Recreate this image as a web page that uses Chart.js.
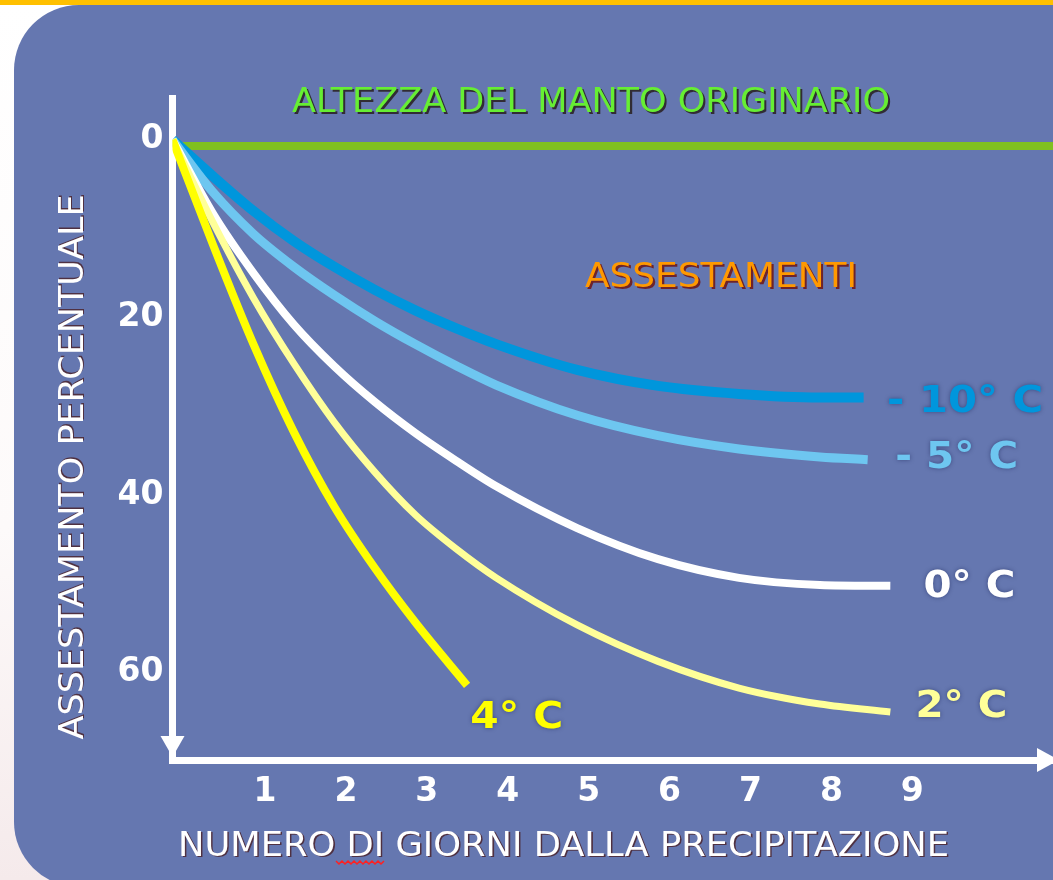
<!DOCTYPE html>
<html>
<head>
<meta charset="utf-8">
<script src="https://cdn.jsdelivr.net/npm/chart.js@4.4.1/dist/chart.umd.min.js"></script>
<style>
  html, body { margin: 0; padding: 0; background: #fff; }
  #wrap { width: 1053px; height: 880px; position: relative; }
</style>
</head>
<body>
<div id="wrap"><canvas id="chart"></canvas></div>
<script>
/* DATA - x: days after snowfall, y: settlement % */
const days10 = [0, 0.5, 1, 1.5, 2, 2.5, 3, 3.5, 4, 5, 6, 7, 8, 8.54];
const settle10 = [0, 4.1, 8.0, 11.4, 14.3, 16.9, 19.2, 21.2, 23.0, 25.9, 27.7, 28.6, 29.0, 29.0];

const days5 = [0, 0.5, 1, 1.5, 2, 2.5, 3, 3.5, 4, 5, 6, 7, 8, 8.59];
const settle5 = [0, 5.9, 10.6, 14.3, 17.5, 20.4, 23.0, 25.4, 27.6, 31.0, 33.3, 34.8, 35.7, 36.0];

const days0 = [0, 0.5, 1, 1.5, 2, 2.5, 3, 3.5, 4, 5, 6, 7, 8, 8.87];
const settle0 = [0, 8.3, 15.0, 20.8, 25.5, 29.5, 33.0, 36.1, 39.0, 43.7, 47.2, 49.3, 50.1, 50.2];

const days2 = [0, 0.5, 1, 1.5, 2, 2.5, 3, 3.5, 4, 5, 6, 7, 8, 8.87];
const settle2 = [0, 9.3, 17.8, 25.2, 31.8, 37.4, 42.2, 46.0, 49.3, 54.6, 58.7, 61.7, 63.5, 64.4];

const days4 = [0, 0.5, 1, 1.5, 2, 2.5, 3, 3.64];
const settle4 = [0, 11.8, 23.0, 32.9, 41.3, 48.2, 54.3, 61.4];

const originalDays = [0.07, 10.9];
const originalLevel = [0.7, 0.7];

const seriesNames = ["- 10° C", "- 5° C", "0° C", "2° C", "4° C"];
const dayTicks = [1, 2, 3, 4, 5, 6, 7, 8, 9];
const pctTicks = [0, 20, 40, 60];

const pts = (xs, ys) => xs.map((x, i) => ({ x: x, y: ys[i] }));

/* Colours */
const colors = ["#0096dc", "#6ec6f0", "#ffffff", "#ffff99", "#ffff00"];
const green = "#80c020";
const panel = "#6577b0";

/* helper: text squeezed to a given width */
function drawText(ctx, text, x, y, font, color, opt) {
  opt = opt || {};
  ctx.save();
  ctx.font = font;
  const w = ctx.measureText(text).width;
  ctx.translate(x, y);
  if (opt.rotate) ctx.rotate(opt.rotate);
  if (opt.width) ctx.scale(opt.width / w, 1);
  ctx.textBaseline = "middle";
  ctx.textAlign = opt.align || "left";
  if (opt.shadow) {
    ctx.fillStyle = opt.shadow;
    ctx.fillText(text, opt.sx || 2, opt.sy || 2);
  }
  if (opt.blur) {
    ctx.shadowColor = opt.blur;
    ctx.shadowBlur = 4;
  }
  ctx.fillStyle = color;
  ctx.fillText(text, 0, 0);
  ctx.restore();
}

/* slide background: orange strip + rounded blue panel */
const slideBg = {
  id: "slideBg",
  beforeDraw(chart) {
    const ctx = chart.ctx, W = chart.width, H = chart.height;
    ctx.save();
    const g = ctx.createLinearGradient(0, 0, 0, H);
    g.addColorStop(0, "#ffffff");
    g.addColorStop(0.6, "#fdfafa");
    g.addColorStop(1, "#f5eaeb");
    ctx.fillStyle = g;
    ctx.fillRect(0, 0, W, H);
    ctx.fillStyle = "#ffc000";
    ctx.fillRect(0, 0, W, 5);
    ctx.fillStyle = panel;
    ctx.beginPath();
    ctx.roundRect(14, 5, W + 100, H + 2, 65);
    ctx.fill();
    ctx.restore();
  }
};

/* titles, curve labels, arrows */
const decorations = {
  id: "decorations",
  afterDraw(chart) {
    const ctx = chart.ctx;
    const xs = chart.scales.x, ys = chart.scales.y;
    const area = chart.chartArea;

    // arrow heads
    ctx.save();
    ctx.fillStyle = "#ffffff";
    ctx.beginPath();
    ctx.moveTo(area.left - 12, area.bottom - 24);
    ctx.lineTo(area.left + 12, area.bottom - 24);
    ctx.lineTo(area.left, area.bottom - 3);
    ctx.closePath();
    ctx.fill();
    ctx.beginPath();
    ctx.moveTo(area.right - 16, area.bottom - 12);
    ctx.lineTo(area.right - 16, area.bottom + 12);
    ctx.lineTo(area.right + 6, area.bottom);
    ctx.closePath();
    ctx.fill();
    ctx.restore();

    drawText(ctx, "ALTEZZA DEL MANTO ORIGINARIO", 292, 103, '34px "DejaVu Sans"', "#66ee33",
      { width: 598, shadow: "rgba(40,30,30,0.85)" });
    drawText(ctx, "ASSESTAMENTI", 585, 278, '34px "DejaVu Sans"', "#ff9900",
      { width: 272, shadow: "rgba(110,20,20,0.85)" });

    // curve labels, placed in data units
    const labelAt = [[8.83, 29.5], [8.93, 35.8], [9.28, 50.3], [9.18, 63.8], [3.68, 65.1]];
    const labelW = [156, 123, 92, 92, 93];
    seriesNames.forEach((name, i) => {
      drawText(ctx, name, xs.getPixelForValue(labelAt[i][0]), ys.getPixelForValue(labelAt[i][1]),
        'bold 38px "DejaVu Sans"', colors[i], { width: labelW[i], blur: "rgba(20,30,80,0.5)" });
    });

    // axis titles
    drawText(ctx, "ASSESTAMENTO PERCENTUALE", 74, 467, '34px "DejaVu Sans"', "#ffffff",
      { width: 545, align: "center", rotate: -Math.PI / 2, shadow: "rgba(70,20,20,0.7)", sx: 1.5, sy: 1.5 });
    drawText(ctx, "NUMERO DI GIORNI DALLA PRECIPITAZIONE", 178, 847, '34px "DejaVu Sans"', "#ffffff",
      { width: 771, shadow: "rgba(70,20,20,0.7)", sx: 1.5, sy: 1.5 });

    // spell-check squiggle under "DI"
    ctx.save();
    ctx.strokeStyle = "#ff2020";
    ctx.lineWidth = 1.5;
    ctx.beginPath();
    for (let x = 336, k = 0; x <= 384; x += 3, k++) {
      const y = 862 + (k % 2 ? 2 : -1);
      if (k === 0) ctx.moveTo(x, y); else ctx.lineTo(x, y);
    }
    ctx.stroke();
    ctx.restore();
  }
};

const lineSet = (data, color, width) => ({
  data: data,
  borderColor: color,
  borderWidth: width,
  pointRadius: 0,
  fill: false,
  cubicInterpolationMode: "monotone",
  borderCapStyle: "butt",
  borderJoinStyle: "round"
});

new Chart(document.getElementById("chart"), {
  type: "line",
  data: {
    datasets: [
      lineSet(pts(days4, settle4), colors[4], 8),
      lineSet(pts(days2, settle2), colors[3], 7),
      lineSet(pts(days0, settle0), colors[2], 8),
      lineSet(pts(days5, settle5), colors[1], 9),
      lineSet(pts(days10, settle10), colors[0], 10),
      lineSet(pts(originalDays, originalLevel), green, 8)
    ]
  },
  options: {
    responsive: true,
    maintainAspectRatio: false,
    animation: false,
    layout: { padding: { top: 98, right: 0, left: 0, bottom: 0 } },
    plugins: { legend: { display: false }, tooltip: { enabled: false } },
    scales: {
      x: {
        type: "linear",
        min: 0,
        max: 10.88,
        grid: { display: false, drawTicks: false },
        border: { color: "#ffffff", width: 7 },
        afterBuildTicks: s => { s.ticks = dayTicks.map(v => ({ value: v })); },
        afterFit: s => { s.height = 120; },
        ticks: {
          color: "#ffffff",
          font: { family: "DejaVu Sans", weight: "bold", size: 33 },
          padding: 13,
          labelOffset: 11.5,
          autoSkip: false,
          maxRotation: 0
        }
      },
      y: {
        reverse: true,
        min: -4.7,
        max: 69.8,
        grid: { display: false, drawTicks: false },
        border: { color: "#ffffff", width: 7 },
        afterBuildTicks: s => { s.ticks = pctTicks.map(v => ({ value: v })); },
        afterFit: s => { s.width = 172.5; },
        ticks: {
          color: "#ffffff",
          font: { family: "DejaVu Sans", weight: "bold", size: 33 },
          padding: 9
        }
      }
    }
  },
  plugins: [slideBg, decorations]
});
</script>
</body>
</html>
